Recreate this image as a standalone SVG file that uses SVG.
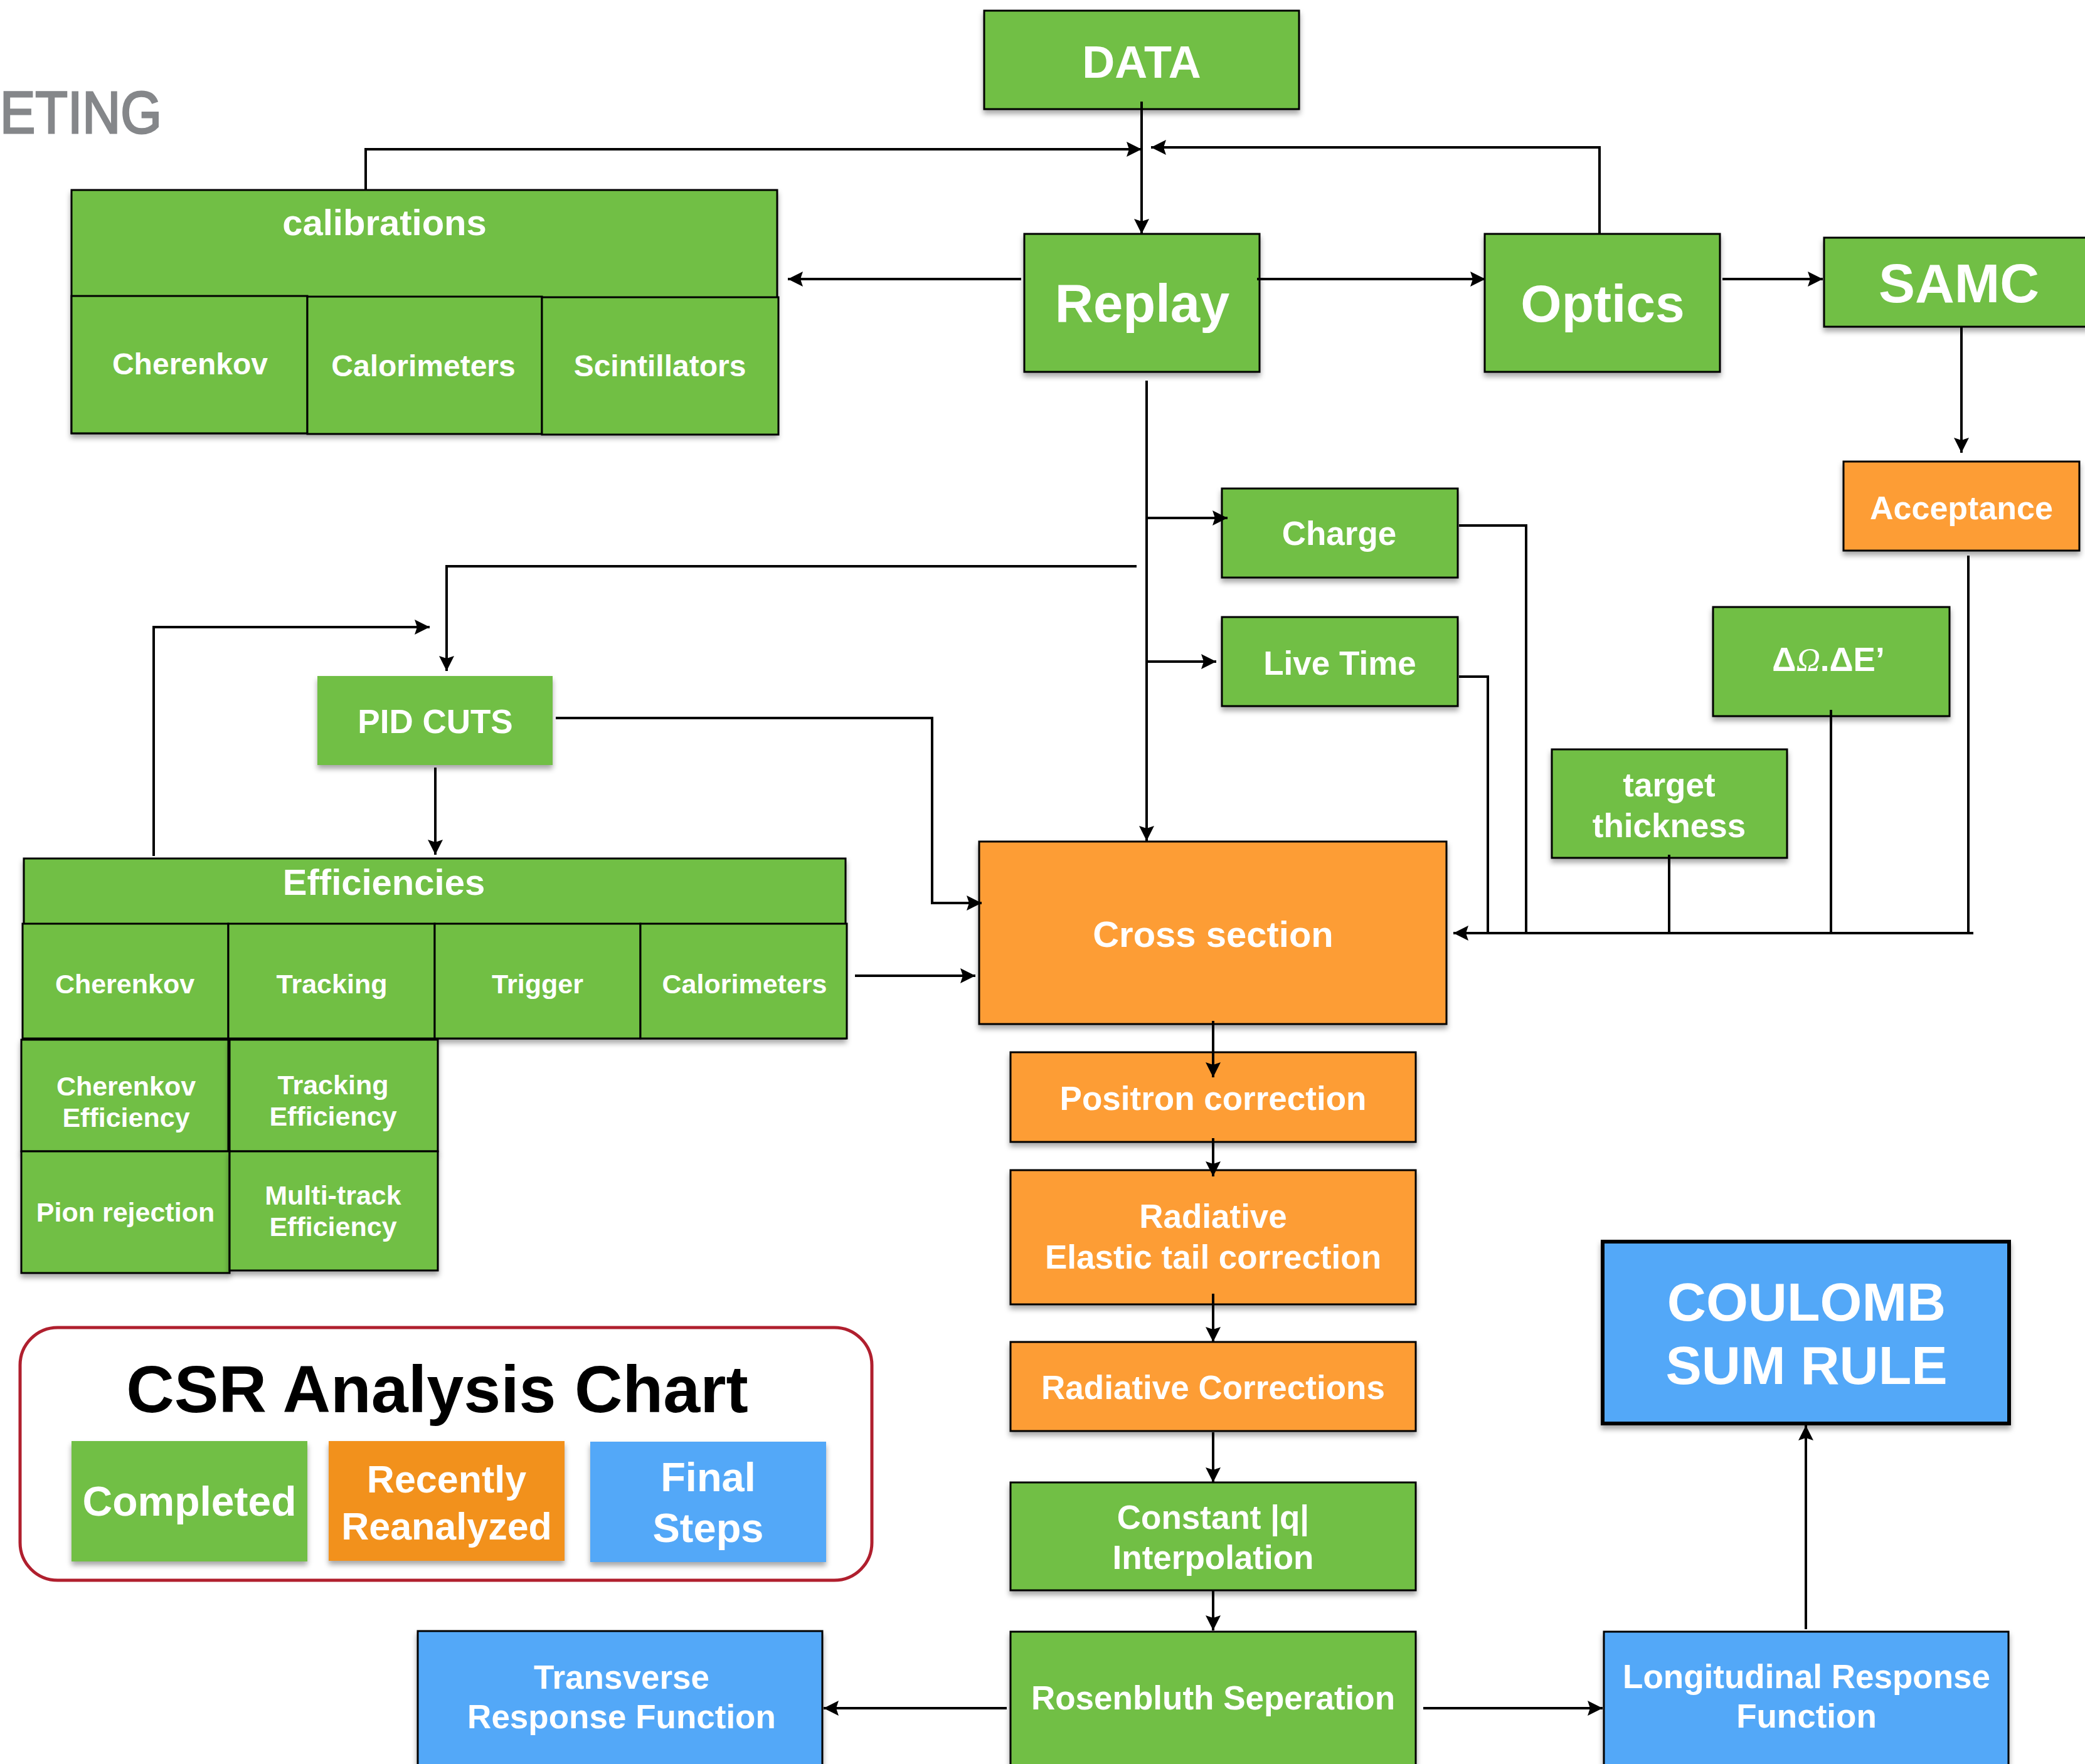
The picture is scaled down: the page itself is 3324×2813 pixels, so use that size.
<svg xmlns="http://www.w3.org/2000/svg" width="3324" height="2813" viewBox="0 0 3324 2813">
<style>
.g{fill:#71bf44}
.o{fill:#fd9d36}
.lo{fill:#f2911d}
.b{fill:#53a8f8}
.bd{stroke:#000;stroke-width:3}
.sh{filter:url(#shadow)}
.t{font-family:"Liberation Sans",Arial,Helvetica,sans-serif;font-weight:bold;fill:#fff;text-anchor:middle}
.c{fill:none;stroke:#000;stroke-width:4}
.a{marker-end:url(#arr)}
</style>
<defs>
<filter id="shadow" x="-10%" y="-10%" width="120%" height="130%">
<feDropShadow dx="0" dy="6" stdDeviation="4" flood-color="#000" flood-opacity="0.35"/>
</filter>
<marker id="arr" markerUnits="userSpaceOnUse" markerWidth="26" markerHeight="26" viewBox="0 0 26 26" refX="24" refY="12" orient="auto">
<path d="M0,0 L24,12 L0,24 L4,12 z" fill="#000"/>
</marker>
</defs>
<rect width="3324" height="2813" fill="#fff"/>
<text x="0" y="212" font-family="Liberation Sans,Arial,sans-serif" font-size="94" fill="#85878a" stroke="#85878a" stroke-width="3" textLength="258" lengthAdjust="spacingAndGlyphs">ETING</text>

<g id="data"><rect class="g bd sh" x="1569" y="17" width="502" height="157"/><text class="t" x="1820" y="124" font-size="72">DATA</text></g>
<g id="replay"><rect class="g bd sh" x="1633" y="373" width="375" height="220"/><text class="t" x="1821" y="513" font-size="85">Replay</text></g>
<g id="optics"><rect class="g bd sh" x="2367" y="373" width="375" height="220"/><text class="t" x="2555" y="513" font-size="84">Optics</text></g>
<g id="samc"><rect class="g bd sh" x="2908" y="379" width="430" height="142"/><text class="t" x="3123" y="482" font-size="87">SAMC</text></g>
<g id="acceptance"><rect class="o bd sh" x="2939" y="736" width="376" height="142"/><text class="t" x="3127" y="828" font-size="52">Acceptance</text></g>

<g id="calibrations">
<rect class="g bd sh" x="114" y="303" width="1125" height="388"/>
<text class="t" x="613" y="375" font-size="58">calibrations</text>
<g id="cal-cherenkov"><rect class="g bd" x="114" y="472" width="376" height="219"/><text class="t" x="303" y="597" font-size="48">Cherenkov</text></g>
<g id="cal-calorimeters"><rect class="g bd" x="490" y="473" width="374" height="219"/><text class="t" x="675" y="600" font-size="48">Calorimeters</text></g>
<g id="cal-scintillators"><rect class="g bd" x="864" y="474" width="377" height="219"/><text class="t" x="1052" y="600" font-size="48">Scintillators</text></g>
</g>

<g id="charge"><rect class="g bd sh" x="1948" y="779" width="376" height="142"/><text class="t" x="2135" y="869" font-size="53">Charge</text></g>
<g id="livetime"><rect class="g bd sh" x="1948" y="984" width="376" height="142"/><text class="t" x="2136" y="1076" font-size="53">Live Time</text></g>
<g id="domega"><rect class="g bd sh" x="2731" y="968" width="377" height="174"/><text class="t" x="2915" y="1070" font-size="53">Δ<tspan font-family="Liberation Serif,Times New Roman,serif" font-style="italic" font-weight="normal">Ω</tspan>.ΔE’</text></g>
<g id="target"><rect class="g bd sh" x="2474" y="1195" width="375" height="173"/><text class="t" x="2661" y="1270" font-size="53">target</text><text class="t" x="2661" y="1335" font-size="53">thickness</text></g>

<g id="pidcuts"><rect class="g sh" x="506" y="1078" width="375" height="142"/><text class="t" x="694" y="1169" font-size="53">PID CUTS</text></g>

<g id="efficiencies">
<rect class="g bd sh" x="38" y="1369" width="1310" height="287"/>
<text class="t" x="612" y="1427" font-size="58">Efficiencies</text>
<g id="eff-cherenkov"><rect class="g bd" x="36" y="1473" width="328" height="183"/><text class="t" x="199" y="1584" font-size="43">Cherenkov</text></g>
<g id="eff-tracking"><rect class="g bd" x="364" y="1473" width="329" height="183"/><text class="t" x="529" y="1584" font-size="43">Tracking</text></g>
<g id="eff-trigger"><rect class="g bd" x="693" y="1473" width="328" height="183"/><text class="t" x="857" y="1584" font-size="43">Trigger</text></g>
<g id="eff-calorimeters"><rect class="g bd" x="1021" y="1473" width="329" height="183"/><text class="t" x="1187" y="1584" font-size="43">Calorimeters</text></g>
</g>
<g id="cherenkov-eff"><rect class="g bd sh" x="34" y="1658" width="330" height="178"/><text class="t" x="201" y="1747" font-size="43">Cherenkov</text><text class="t" x="201" y="1797" font-size="43">Efficiency</text></g>
<g id="tracking-eff"><rect class="g bd sh" x="366" y="1658" width="332" height="178"/><text class="t" x="531" y="1745" font-size="43">Tracking</text><text class="t" x="531" y="1795" font-size="43">Efficiency</text></g>
<g id="pion"><rect class="g bd sh" x="34" y="1836" width="332" height="194"/><text class="t" x="200" y="1948" font-size="43">Pion rejection</text></g>
<g id="multitrack"><rect class="g bd sh" x="366" y="1836" width="332" height="190"/><text class="t" x="531" y="1921" font-size="43">Multi-track</text><text class="t" x="531" y="1971" font-size="43">Efficiency</text></g>

<g id="crosssection"><rect class="o bd sh" x="1561" y="1342" width="745" height="291"/><text class="t" x="1934" y="1510" font-size="58">Cross section</text></g>
<g id="positron"><rect class="o bd sh" x="1611" y="1678" width="646" height="143"/><text class="t" x="1934" y="1770" font-size="53">Positron correction</text></g>
<g id="radelastic"><rect class="o bd sh" x="1611" y="1866" width="646" height="214"/><text class="t" x="1934" y="1958" font-size="53">Radiative</text><text class="t" x="1934" y="2023" font-size="53">Elastic tail correction</text></g>
<g id="radcorr"><rect class="o bd sh" x="1611" y="2140" width="646" height="142"/><text class="t" x="1934" y="2231" font-size="53">Radiative Corrections</text></g>
<g id="constq"><rect class="g bd sh" x="1611" y="2364" width="646" height="172"/><text class="t" x="1934" y="2438" font-size="53">Constant |q|</text><text class="t" x="1934" y="2502" font-size="53">Interpolation</text></g>
<g id="rosenbluth"><rect class="g bd sh" x="1611" y="2602" width="646" height="240"/><text class="t" x="1934" y="2726" font-size="53">Rosenbluth Seperation</text></g>
<g id="transverse"><rect class="b bd sh" x="666" y="2601" width="645" height="240"/><text class="t" x="991" y="2693" font-size="53">Transverse</text><text class="t" x="991" y="2756" font-size="53">Response Function</text></g>
<g id="longitudinal"><rect class="b bd sh" x="2557" y="2602" width="645" height="240"/><text class="t" x="2880" y="2692" font-size="53">Longitudinal Response</text><text class="t" x="2880" y="2755" font-size="53">Function</text></g>
<g id="coulomb"><rect class="b sh" x="2555" y="1980" width="648" height="290" stroke="#000" stroke-width="6"/><text class="t" x="2880" y="2106" font-size="86">COULOMB</text><text class="t" x="2880" y="2207" font-size="86">SUM RULE</text></g>

<g id="legend">
<rect x="32" y="2117" width="1358" height="403" rx="60" ry="60" fill="#fff" stroke="#b01f2e" stroke-width="5"/>
<text x="697" y="2252" font-family="Liberation Sans,Arial,sans-serif" font-weight="bold" font-size="106" fill="#000" text-anchor="middle">CSR Analysis Chart</text>
<g id="legend-completed"><rect class="g sh" x="114" y="2298" width="376" height="192"/><text class="t" x="302" y="2417" font-size="66">Completed</text></g>
<g id="legend-recent"><rect class="lo sh" x="524" y="2298" width="376" height="191"/><text class="t" x="712" y="2380" font-size="61">Recently</text><text class="t" x="712" y="2455" font-size="61">Reanalyzed</text></g>
<g id="legend-final"><rect class="b sh" x="941" y="2299" width="376" height="192"/><text class="t" x="1129" y="2378" font-size="65">Final</text><text class="t" x="1129" y="2459" font-size="65">Steps</text></g>
</g>

<g id="connectors">
<path class="c a" d="M1820,162 V373"/>
<path class="c a" d="M583,303 V238 H1820"/>
<path class="c a" d="M2550,373 V235 H1835"/>
<path class="c a" d="M1628,445 H1256"/>
<path class="c a" d="M2004,445 H2368"/>
<path class="c a" d="M2746,445 H2906"/>
<path class="c a" d="M3127,521 V722"/>
<path class="c a" d="M1828,607 V1341"/>
<path class="c a" d="M1828,826 H1957"/>
<path class="c a" d="M1828,1055 H1939"/>
<path class="c a" d="M1812,903 H712 V1070"/>
<path class="c a" d="M694,1224 V1363"/>
<path class="c a" d="M245,1365 V1000 H685"/>
<path class="c a" d="M886,1145 H1486 V1440 H1565"/>
<path class="c a" d="M1363,1556 H1555"/>
<path class="c" d="M2326,838 H2433 V1486"/>
<path class="c" d="M2326,1079 H2372 V1486"/>
<path class="c a" d="M3146,1488 H2317"/>
<path class="c" d="M3138,886 V1490"/>
<path class="c" d="M2919,1132 V1486"/>
<path class="c" d="M2661,1363 V1486"/>
<path class="c a" d="M1934,1628 V1718"/>
<path class="c a" d="M1934,1815 V1876"/>
<path class="c a" d="M1934,2063 V2140"/>
<path class="c a" d="M1934,2284 V2364"/>
<path class="c a" d="M1934,2536 V2600"/>
<path class="c a" d="M2269,2724 H2555"/>
<path class="c a" d="M1605,2724 H1313"/>
<path class="c a" d="M2879,2598 V2273"/>
</g>
</svg>
